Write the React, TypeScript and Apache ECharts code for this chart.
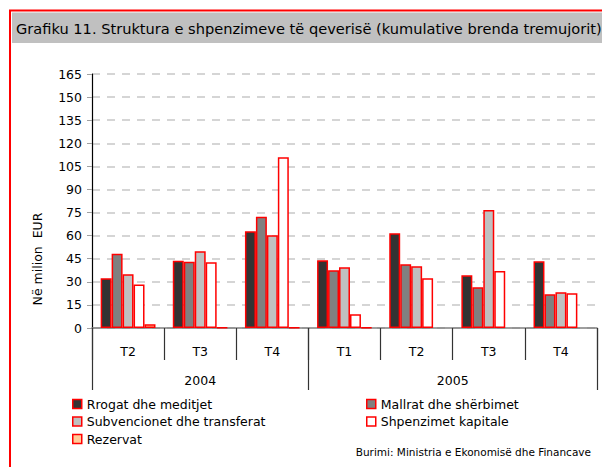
import React, { useEffect, useRef } from "react";
import * as echarts from "echarts";

const quarters = ["T2", "T3", "T4", "T1", "T2", "T3", "T4"];
const years = ["2004", "2005"];
const quartersPerYear = [3, 4];

const rrogat = [32.3, 43.7, 62.8, 44.0, 61.5, 34.2, 43.3];
const mallrat = [48.3, 43.1, 72.3, 37.5, 41.4, 26.4, 21.9];
const subvencionet = [34.9, 49.8, 60.2, 39.4, 40.1, 76.7, 23.2];
const kapitale = [28.2, 42.7, 110.9, 8.9, 32.3, 37.0, 22.5];
const rezervat = [2.4, 0.3, 0.3, 0.3, null, null, null];

const yMin = 0;
const yMax = 165;
const yStep = 15;

const titleText =
  "Grafiku 11. Struktura e shpenzimeve të qeverisë (kumulative brenda tremujorit)";
const yName = "Në milion  EUR";
const sourceText = "Burimi: Ministria e Ekonomisë dhe Financave";

const FONT = "'DejaVu Sans', Verdana, sans-serif";

export default function App() {
  const ref = useRef<HTMLDivElement>(null);

  useEffect(() => {
    if (!ref.current) return;
    const chart = echarts.init(ref.current, undefined, { renderer: "svg" });

    const bounds: number[] = [0];
    quartersPerYear.forEach((n) => bounds.push(bounds[bounds.length - 1] + n));
    const centers = years.map((_, i) => (bounds[i] + bounds[i + 1]) / 2);

    const seriesDefs = [
      { name: "Rrogat dhe meditjet", data: rrogat, color: "#333333" },
      { name: "Mallrat dhe shërbimet", data: mallrat, color: "#808080" },
      { name: "Subvencionet dhe transferat", data: subvencionet, color: "#c0c0c0" },
      { name: "Shpenzimet kapitale", data: kapitale, color: "#ffffff" },
      { name: "Rezervat", data: rezervat, color: "#ffcc99" },
    ];

    const legendCommon = {
      orient: "vertical" as const,
      icon: "rect",
      itemWidth: 9,
      itemHeight: 9,
      itemGap: 3.5,
      padding: 0,
      top: 397,
      textStyle: { fontFamily: FONT, fontSize: 12.5, color: "#000", lineHeight: 14 },
      itemStyle: { borderColor: "#ff0000", borderWidth: 1.5 },
    };

    chart.setOption({
      animation: false,
      backgroundColor: "#ffffff",
      textStyle: { fontFamily: FONT },
      graphic: [
        {
          type: "rect",
          shape: { x: 10, y: 10.5, width: 700, height: 600 },
          style: { fill: "none", stroke: "#ff0000", lineWidth: 2 },
          silent: true,
        },
        {
          type: "rect",
          shape: { x: 12, y: 12.5, width: 600, height: 30.5 },
          style: { fill: "#c0c0c0" },
          silent: true,
        },
        {
          type: "text",
          x: 16,
          y: 28,
          style: {
            text: titleText,
            fontFamily: FONT,
            fontSize: 14.6,
            fill: "#000",
            align: "left",
            verticalAlign: "middle",
          },
          silent: true,
        },
        {
          type: "text",
          x: 37,
          y: 259,
          rotation: Math.PI / 2,
          style: {
            text: yName,
            fontFamily: FONT,
            fontSize: 12.5,
            fill: "#000",
            align: "center",
            verticalAlign: "middle",
          },
          silent: true,
        },
        {
          type: "text",
          x: 591,
          y: 452,
          style: {
            text: sourceText,
            fontFamily: FONT,
            fontSize: 10.5,
            fill: "#000",
            align: "right",
            verticalAlign: "middle",
          },
          silent: true,
        },
      ],
      legend: [
        {
          ...legendCommon,
          left: 72,
          data: [seriesDefs[0].name, seriesDefs[2].name, seriesDefs[4].name],
        },
        {
          ...legendCommon,
          left: 366,
          data: [seriesDefs[1].name, seriesDefs[3].name],
        },
      ],
      grid: { left: 92, right: 5, top: 74, bottom: 139, containLabel: false },
      xAxis: [
        {
          type: "category",
          data: quarters,
          position: "bottom",
          boundaryGap: true,
          axisLine: { show: true, lineStyle: { color: "#808080", width: 1.5 } },
          axisTick: {
            show: true,
            interval: 0,
            alignWithLabel: false,
            length: 32,
            lineStyle: { color: "#333333", width: 1.2 },
          },
          axisLabel: {
            interval: 0,
            margin: 17,
            fontFamily: FONT,
            fontSize: 12.5,
            color: "#000",
          },
          splitLine: { show: false },
        },
        {
          type: "value",
          min: 0,
          max: bounds[bounds.length - 1],
          position: "bottom",
          axisLine: { show: false },
          splitLine: { show: false },
          axisTick: {
            show: true,
            customValues: bounds,
            length: 62,
            lineStyle: { color: "#333333", width: 1.2 },
          },
          axisLabel: {
            show: true,
            customValues: centers,
            margin: 46,
            fontFamily: FONT,
            fontSize: 12.5,
            color: "#000",
            formatter: (v: number) => {
              const i = centers.indexOf(v);
              return i >= 0 ? years[i] : "";
            },
          },
        },
      ],
      yAxis: {
        type: "value",
        min: yMin,
        max: yMax,
        interval: yStep,
        axisLine: { show: true, lineStyle: { color: "#000", width: 1.2 } },
        axisTick: { show: true, length: 5, lineStyle: { color: "#a0a0a0", width: 1 } },
        axisLabel: {
          margin: 10,
          fontFamily: FONT,
          fontSize: 12.5,
          color: "#000",
        },
        splitLine: {
          show: true,
          lineStyle: { color: "#c8c8c8", width: 1.5, type: [8, 7] },
        },
      },
      series: seriesDefs.map((s) => ({
        name: s.name,
        type: "bar",
        xAxisIndex: 0,
        data: s.data,
        barGap: "0%",
        barCategoryGap: "24%",
        itemStyle: { color: s.color, borderColor: "#ff0000", borderWidth: 1.5 },
      })),
    });

    return () => chart.dispose();
  }, []);

  return (
    <div
      ref={ref}
      style={{ position: "fixed", left: 0, top: 0, width: 602, height: 467 }}
    />
  );
}
